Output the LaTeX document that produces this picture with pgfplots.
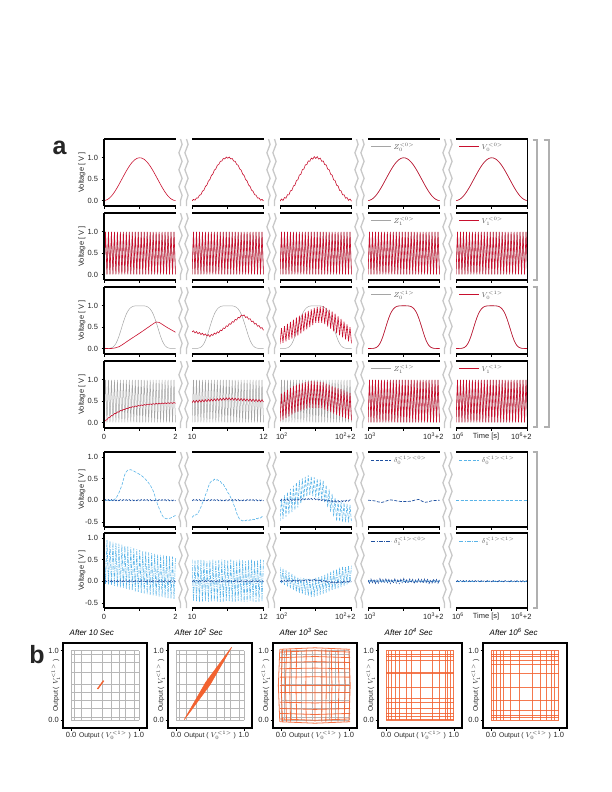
\documentclass[border=0pt]{standalone}
\usepackage{fontspec}
\setmainfont{Liberation Sans}
\usepackage{pgfplots}
\usepackage{pgfplotstable}
\pgfplotsset{compat=1.18}
\usetikzlibrary{decorations.pathmorphing}

\definecolor{vred}{RGB}{200,16,46}
\definecolor{zgray}{RGB}{165,165,165}
\definecolor{dblue}{RGB}{30,80,160}
\definecolor{lblue}{RGB}{90,180,232}
\definecolor{orng}{RGB}{242,98,48}
\definecolor{wavy}{RGB}{200,200,200}
\definecolor{brack}{RGB}{176,176,176}

% k = sample index (48 samples = 2 s of one window)
\pgfplotstableread{
k Z1 B B2 B3 P R32 R33 R41 R42 R43 DR D52 D53 DK3 D61 D62 D63 DN
0 0 0.000 -0.010 -0.015 0.000 0.385 0.100 0.000 0.460 0.030 -0.012 -0.400 -0.480 -0.015 0.980 0.50 0.330 0.03
1 1 0.004 0.024 0.034 0.000 0.415 0.475 0.052 0.513 0.673 0.015 -0.360 0.038 0.016 -0.058 -0.46 -0.040 -0.04
2 0 0.017 0.007 0.002 0.000 0.365 0.133 0.065 0.466 0.068 -0.012 -0.360 -0.428 -0.012 0.958 0.48 0.290 0.05
3 1 0.038 0.058 0.068 0.002 0.395 0.525 0.113 0.519 0.719 0.015 -0.320 0.113 0.019 -0.075 -0.47 -0.080 -0.03
4 0 0.067 0.057 0.052 0.005 0.345 0.167 0.120 0.472 0.106 -0.012 -0.320 -0.377 -0.010 0.937 0.49 0.250 0.04
5 1 0.103 0.123 0.133 0.014 0.375 0.575 0.164 0.525 0.765 0.015 -0.220 0.188 0.021 -0.092 -0.48 -0.120 -0.05
6 0 0.146 0.136 0.131 0.032 0.325 0.200 0.168 0.477 0.144 -0.012 -0.160 -0.325 -0.007 0.915 0.50 0.210 0.03
7 1 0.196 0.216 0.226 0.064 0.357 0.625 0.209 0.530 0.811 0.015 -0.060 0.263 0.024 -0.108 -0.47 -0.160 -0.04
8 0 0.250 0.240 0.235 0.116 0.308 0.233 0.209 0.483 0.182 -0.012 0.000 -0.273 -0.005 0.893 0.49 0.170 0.06
9 1 0.309 0.329 0.339 0.189 0.340 0.675 0.247 0.536 0.857 0.015 0.120 0.338 0.026 -0.125 -0.46 -0.200 -0.03
10 0 0.371 0.361 0.356 0.282 0.292 0.267 0.244 0.489 0.220 -0.012 0.200 -0.222 -0.002 0.872 0.47 0.130 0.04
11 1 0.435 0.455 0.465 0.390 0.323 0.725 0.280 0.542 0.889 0.015 0.320 0.413 0.029 -0.142 -0.48 -0.240 -0.04
12 0 0.500 0.490 0.485 0.505 0.275 0.300 0.275 0.495 0.246 -0.012 0.400 -0.170 0.000 0.850 0.49 0.090 0.05
13 1 0.565 0.585 0.595 0.617 0.330 0.768 0.308 0.548 0.907 0.015 0.443 0.469 0.031 -0.159 -0.47 -0.271 -0.03
14 0 0.629 0.619 0.614 0.719 0.305 0.350 0.301 0.501 0.272 -0.012 0.447 -0.081 0.003 0.828 0.50 0.082 0.04
15 1 0.691 0.711 0.721 0.806 0.360 0.805 0.332 0.554 0.925 0.015 0.490 0.506 0.034 -0.178 -0.46 -0.293 -0.05
16 0 0.750 0.740 0.735 0.874 0.335 0.400 0.323 0.507 0.298 -0.012 0.463 0.007 0.005 0.807 0.48 0.074 0.03
17 1 0.804 0.824 0.834 0.924 0.390 0.842 0.353 0.559 0.943 0.015 0.477 0.543 0.036 -0.196 -0.47 -0.315 -0.04
18 0 0.854 0.844 0.839 0.958 0.365 0.450 0.342 0.512 0.324 -0.012 0.450 0.096 0.008 0.785 0.49 0.066 0.05
19 1 0.897 0.917 0.927 0.980 0.430 0.878 0.371 0.565 0.961 0.015 0.440 0.580 0.039 -0.214 -0.48 -0.337 -0.04
20 0 0.933 0.923 0.918 0.992 0.415 0.500 0.359 0.518 0.350 -0.012 0.390 0.126 0.010 0.763 0.50 0.058 0.03
21 1 0.962 0.982 0.992 0.997 0.480 0.915 0.386 0.571 0.968 0.015 0.380 0.554 0.041 -0.233 -0.47 -0.359 -0.05
22 0 0.983 0.973 0.968 0.999 0.465 0.550 0.373 0.524 0.345 -0.012 0.300 0.098 0.013 0.742 0.49 0.050 0.04
23 1 0.996 1.016 1.026 1.000 0.530 0.952 0.399 0.577 0.963 0.015 0.260 0.528 0.044 -0.251 -0.46 -0.358 -0.03
24 0 1.000 0.990 0.985 1.000 0.515 0.600 0.385 0.530 0.340 -0.012 0.180 0.070 0.015 0.720 0.48 0.077 0.06
25 1 0.996 1.016 1.026 1.000 0.580 0.974 0.411 0.578 0.958 0.015 0.140 0.502 0.040 -0.268 -0.47 -0.333 -0.04
26 0 0.983 0.973 0.968 0.999 0.565 0.600 0.396 0.526 0.335 -0.012 0.060 0.042 0.005 0.703 0.50 0.103 0.03
27 1 0.962 0.982 0.992 0.997 0.630 0.982 0.421 0.574 0.953 0.015 0.020 0.476 0.030 -0.283 -0.48 -0.309 -0.04
28 0 0.933 0.923 0.918 0.992 0.615 0.600 0.405 0.522 0.330 -0.012 -0.100 0.014 -0.005 0.687 0.49 0.130 0.05
29 1 0.897 0.917 0.927 0.980 0.680 0.990 0.429 0.570 0.937 0.015 -0.180 0.450 0.020 -0.298 -0.47 -0.284 -0.03
30 0 0.854 0.844 0.839 0.958 0.665 0.571 0.413 0.518 0.300 -0.012 -0.300 -0.053 -0.015 0.670 0.48 0.157 0.04
31 1 0.804 0.824 0.834 0.924 0.730 0.950 0.436 0.565 0.911 0.015 -0.380 0.350 0.010 -0.313 -0.46 -0.260 -0.05
32 0 0.750 0.740 0.735 0.874 0.715 0.514 0.419 0.513 0.270 -0.012 -0.440 -0.160 -0.025 0.653 0.50 0.186 0.03
33 1 0.691 0.711 0.721 0.806 0.780 0.910 0.442 0.561 0.885 0.015 -0.460 0.250 0.000 -0.328 -0.47 -0.236 -0.04
34 0 0.629 0.619 0.614 0.719 0.765 0.457 0.425 0.509 0.240 -0.012 -0.479 -0.267 -0.035 0.637 0.49 0.218 0.05
35 1 0.565 0.585 0.595 0.617 0.785 0.870 0.448 0.557 0.859 0.015 -0.457 0.150 -0.010 -0.343 -0.48 -0.212 -0.03
36 0 0.500 0.490 0.485 0.505 0.725 0.400 0.430 0.505 0.210 -0.012 -0.476 -0.373 -0.045 0.620 0.47 0.250 0.04
37 1 0.435 0.455 0.465 0.390 0.745 0.818 0.452 0.553 0.833 0.015 -0.454 0.050 -0.013 -0.356 -0.47 -0.188 -0.04
38 0 0.371 0.361 0.356 0.282 0.685 0.353 0.434 0.501 0.180 -0.012 -0.473 -0.480 -0.040 0.610 0.49 0.282 0.05
39 1 0.309 0.329 0.339 0.189 0.697 0.755 0.456 0.549 0.806 0.015 -0.451 -0.012 -0.008 -0.368 -0.46 -0.164 -0.03
40 0 0.250 0.240 0.235 0.116 0.629 0.307 0.438 0.497 0.154 -0.012 -0.470 -0.488 -0.035 0.600 0.50 0.314 0.04
41 1 0.196 0.216 0.226 0.064 0.641 0.692 0.460 0.545 0.778 0.015 -0.440 -0.036 -0.003 -0.379 -0.47 -0.140 -0.05
42 0 0.146 0.136 0.131 0.032 0.573 0.260 0.441 0.493 0.128 -0.012 -0.450 -0.496 -0.030 0.590 0.48 0.334 0.03
43 1 0.103 0.123 0.133 0.014 0.585 0.628 0.463 0.540 0.750 0.015 -0.420 -0.060 0.002 -0.391 -0.48 -0.106 -0.04
44 0 0.067 0.057 0.052 0.005 0.521 0.213 0.444 0.488 0.102 -0.012 -0.430 -0.504 -0.025 0.580 0.49 0.343 0.05
45 1 0.038 0.058 0.068 0.002 0.537 0.565 0.465 0.536 0.722 0.015 -0.400 -0.084 0.007 -0.402 -0.47 -0.071 -0.03
46 0 0.017 0.007 0.002 0.000 0.473 0.167 0.446 0.484 0.076 -0.012 -0.410 -0.512 -0.020 0.570 0.50 0.351 0.04
47 1 0.004 0.024 0.034 0.000 0.489 0.502 0.467 0.532 0.694 0.015 -0.380 -0.108 0.012 -0.414 -0.46 -0.037 -0.04
48 0 0.000 -0.010 -0.015 0.000 0.425 0.120 0.448 0.480 0.050 -0.012 -0.390 -0.520 -0.015 0.560 0.49 0.360 0.03
}\sig

\newcommand{\fs}{\fontsize{7.5}{9}\selectfont}
\newcommand{\fss}{\fontsize{6.8}{8}\selectfont}

\pgfplotsset{
  brk/.style={
    scale only axis, width=71.5pt, anchor=north west,
    xmin=0, xmax=48,
    axis line style={draw=none},
    tick align=outside, major tick length=2.5pt, tick pos=left,
    tick style={black, line width=0.6pt},
    xtick={0,24,48}, xticklabels={}, ytick=\empty,
    tick label style={font=\fs, text=black!85},
    xticklabel style={text height=5.5pt, text depth=1pt},
    label style={font=\fs, text=black!85},
    every axis plot/.append style={line width=0.6pt},
    legend style={at={(0.04,0.975)}, anchor=north west, draw=none, fill=none,
      text=black!65, inner sep=0pt, font=\fs},
    legend image code/.code={\draw[#1] (0pt,0pt) -- (20pt,0pt);},
    after end axis/.append code={
      \draw[line width=1.8pt] (rel axis cs:0,1) -- (rel axis cs:1,1);
      \draw[line width=1.1pt] (rel axis cs:0,0) -- (rel axis cs:1,0);
    },
  },
  rtop/.style={height=67pt, ymin=-0.13, ymax=1.44},
  rbot/.style={height=75pt, ymin=-0.62, ymax=1.12},
  c1/.style={ytick={0,0.5,1}, yticklabels={0.0,0.5,1.0},
    ylabel={Voltage [ V ]},
    ylabel style={at={(axis description cs:-0.31,0.5)}, anchor=center},
    after end axis/.append code={\draw[line width=1.1pt] (rel axis cs:0,0) -- (rel axis cs:0,1);}},
  c1b/.style={c1, ytick={-0.5,0,0.5,1}, yticklabels={-0.5,0.0,0.5,1.0}},
  c5/.style={after end axis/.append code={\draw[line width=1.1pt] (rel axis cs:1,0) -- (rel axis cs:1,1);}},
  tlab/.style={xlabel={Time [s]},
    xlabel style={at={(axis description cs:0.42,0)}, anchor=base, yshift=-10.5pt}},
  zg/.style={zgray, line width=0.5pt},
  vr/.style={vred, line width=0.6pt},
  dbd/.style={dblue, line width=0.7pt, dash pattern=on 3pt off 1.5pt},
  lbd/.style={lblue, line width=0.6pt, dash pattern=on 3pt off 1.5pt},
  dbdd/.style={dblue, line width=0.7pt, dash pattern=on 4pt off 1.2pt on 1pt off 1.2pt},
  lbdd/.style={lblue, line width=0.6pt, dash pattern=on 4pt off 1.2pt on 1pt off 1.2pt},
  bp/.style={
    scale only axis, width=84pt, height=85pt, anchor=north west,
    xmin=-0.12, xmax=1.12, ymin=-0.11, ymax=1.11,
    xtick={0,1}, ytick={0,1}, xticklabels={0.0,1.0}, yticklabels={0.0,1.0},
    tick align=outside, major tick length=2.5pt, tick pos=left,
    tick style={black, line width=0.6pt},
    axis line style={line width=1.5pt},
    tick label style={font=\fs, text=black!85, inner sep=1.5pt},
    xticklabel style={text height=5.5pt, text depth=1pt},
    label style={font=\fss, text=black!85, inner sep=1pt},
    xlabel={Output ( $V_0^{<1>}$ )}, ylabel={Output ( $V_1^{<1>}$ )},
    xlabel style={at={(axis description cs:0.5,0)}, anchor=base, yshift=-9.5pt},
    ylabel style={at={(axis description cs:-0.085,0.5)}, anchor=center},
    title style={at={(axis description cs:0.06,1)}, anchor=south west, inner sep=1.5pt,
      font=\itshape\fontsize{8}{9}\selectfont},
    unbounded coords=jump,
  },
}

\newcommand{\graygrid}{%
  \pgfplotsinvokeforeach{0,0.05,0.155,0.3,0.46,0.59,0.71,0.8,0.93,1}{%
    \addplot[zgray!80, line width=0.5pt] coordinates {(##1,0) (##1,1)};}%
  \pgfplotsinvokeforeach{0,0.05,0.17,0.29,0.40,0.52,0.69,0.83,0.95,1}{%
    \addplot[zgray!80, line width=0.5pt] coordinates {(0,##1) (1,##1)};}%
}

\begin{document}
\begin{tikzpicture}
\path (0,0) rectangle (612pt,-792pt);

% ================= row 1 : Z0<0>, V0<0>
\begin{axis}[brk,rtop,c1,at={(104pt,-139pt)}]
\addplot[vr] table[x=k,y=B]{\sig};
\end{axis}
\begin{axis}[brk,rtop,at={(192pt,-139pt)}]
\addplot[vr] table[x=k,y=B2]{\sig};
\end{axis}
\begin{axis}[brk,rtop,at={(280pt,-139pt)}]
\addplot[vr] table[x=k,y=B3]{\sig};
\end{axis}
\begin{axis}[brk,rtop,at={(368pt,-139pt)}]
\addplot[zg] table[x=k,y=B]{\sig}; \addlegendentry{$Z_0^{<0>}$}
\addplot[vr,forget plot] table[x=k,y=B]{\sig};
\end{axis}
\begin{axis}[brk,rtop,c5,at={(456pt,-139pt)}]
\addplot[zg,forget plot] table[x=k,y=B]{\sig};
\addplot[vr] table[x=k,y=B]{\sig}; \addlegendentry{$V_0^{<0>}$}
\end{axis}

% ================= row 2 : Z1<0>, V1<0>
\begin{axis}[brk,rtop,c1,at={(104pt,-213pt)}]
\addplot[zg] table[x=k,y=Z1]{\sig};
\addplot[vr] table[x=k,y=Z1]{\sig};
\end{axis}
\begin{axis}[brk,rtop,at={(192pt,-213pt)}]
\addplot[zg] table[x=k,y=Z1]{\sig};
\addplot[vr] table[x=k,y=Z1]{\sig};
\end{axis}
\begin{axis}[brk,rtop,at={(280pt,-213pt)}]
\addplot[zg] table[x=k,y=Z1]{\sig};
\addplot[vr] table[x=k,y=Z1]{\sig};
\end{axis}
\begin{axis}[brk,rtop,at={(368pt,-213pt)}]
\addplot[zg] table[x=k,y=Z1]{\sig}; \addlegendentry{$Z_1^{<0>}$}
\addplot[vr,forget plot] table[x=k,y=Z1]{\sig};
\end{axis}
\begin{axis}[brk,rtop,c5,at={(456pt,-213pt)}]
\addplot[zg,forget plot] table[x=k,y=Z1]{\sig};
\addplot[vr] table[x=k,y=Z1]{\sig}; \addlegendentry{$V_1^{<0>}$}
\end{axis}

% ================= row 3 : Z0<1>, V0<1>
\begin{axis}[brk,rtop,c1,at={(104pt,-287pt)}]
\addplot[zg] table[x=k,y=P]{\sig};
\addplot[vr,smooth] coordinates {(0,0) (5,0.0) (10,0.04) (17,0.2) (24,0.36) (29,0.48) (35,0.62) (37,0.61) (42,0.50) (48,0.38)};
\end{axis}
\begin{axis}[brk,rtop,at={(192pt,-287pt)}]
\addplot[zg] table[x=k,y=P]{\sig};
\addplot[vr] table[x=k,y=R32]{\sig};
\end{axis}
\begin{axis}[brk,rtop,at={(280pt,-287pt)}]
\addplot[zg] table[x=k,y=P]{\sig};
\addplot[vr] table[x=k,y=R33]{\sig};
\end{axis}
\begin{axis}[brk,rtop,at={(368pt,-287pt)}]
\addplot[zg] table[x=k,y=P]{\sig}; \addlegendentry{$Z_0^{<1>}$}
\addplot[vr,forget plot] table[x=k,y=P]{\sig};
\end{axis}
\begin{axis}[brk,rtop,c5,at={(456pt,-287pt)}]
\addplot[zg,forget plot] table[x=k,y=P]{\sig};
\addplot[vr] table[x=k,y=P]{\sig}; \addlegendentry{$V_0^{<1>}$}
\end{axis}

% ================= row 4 : Z1<1>, V1<1>
\begin{axis}[brk,rtop,c1,at={(104pt,-361pt)}, xticklabels={0,,2}]
\addplot[zg] table[x=k,y=Z1]{\sig};
\addplot[vr] table[x=k,y=R41]{\sig};
\end{axis}
\begin{axis}[brk,rtop,at={(192pt,-361pt)}, xticklabels={10,,12}]
\addplot[zg] table[x=k,y=Z1]{\sig};
\addplot[vr] table[x=k,y=R42]{\sig};
\end{axis}
\begin{axis}[brk,rtop,at={(280pt,-361pt)},
  xticklabels={\makebox[8pt][l]{10\textsuperscript{2}},,\makebox[8pt][r]{10\textsuperscript{2}+2}}]
\addplot[zg] table[x=k,y=Z1]{\sig};
\addplot[vr] table[x=k,y=R43]{\sig};
\end{axis}
\begin{axis}[brk,rtop,at={(368pt,-361pt)},
  xticklabels={\makebox[8pt][l]{10\textsuperscript{3}},,\makebox[8pt][r]{10\textsuperscript{3}+2}}]
\addplot[zg] table[x=k,y=Z1]{\sig}; \addlegendentry{$Z_1^{<1>}$}
\addplot[vr,forget plot] table[x=k,y=Z1]{\sig};
\end{axis}
\begin{axis}[brk,rtop,c5,tlab,at={(456pt,-361pt)},
  xticklabels={\makebox[8pt][l]{10\textsuperscript{6}},,\makebox[8pt][r]{10\textsuperscript{6}+2}}]
\addplot[zg,forget plot] table[x=k,y=Z1]{\sig};
\addplot[vr] table[x=k,y=Z1]{\sig}; \addlegendentry{$V_1^{<1>}$}
\end{axis}

% ================= row 5 : delta0
\begin{axis}[brk,rbot,c1b,at={(104pt,-452pt)}]
\addplot[lbd,smooth] coordinates {(0,0) (6,0.0) (9,0.1) (12,0.35) (14,0.6) (16,0.7) (18,0.71) (22,0.64) (26,0.55) (30,0.40) (33,0.22) (36,-0.1) (40,-0.4) (44,-0.42) (48,-0.35)};
\addplot[dbd] table[x=k,y=DR]{\sig};
\end{axis}
\begin{axis}[brk,rbot,at={(192pt,-452pt)}]
\addplot[lbd] table[x=k,y=D52]{\sig};
\addplot[dbd] table[x=k,y=DR]{\sig};
\end{axis}
\begin{axis}[brk,rbot,at={(280pt,-452pt)}]
\addplot[lbd] table[x=k,y=D53]{\sig};
\addplot[dbd] table[x=k,y=DK3]{\sig};
\end{axis}
\begin{axis}[brk,rbot,at={(368pt,-452pt)}]
\addplot[dbd,smooth] coordinates {(0,0.0) (4,-0.01) (9,-0.05) (15,0.01) (20,-0.02) (24,-0.03) (29,-0.02) (34,0.02) (38,-0.05) (43,-0.01) (48,0.0)};
\addlegendentry{$\delta_0^{<1><0>}$}
\end{axis}
\begin{axis}[brk,rbot,c5,at={(456pt,-452pt)}]
\addplot[dbd,forget plot] coordinates {(0,0) (48,0)};
\addplot[lbd] coordinates {(0,0) (48,0)}; \addlegendentry{$\delta_0^{<1><1>}$}
\end{axis}

% ================= row 6 : delta1
\begin{axis}[brk,rbot,c1b,at={(104pt,-533pt)}, xticklabels={0,,2}]
\addplot[lbdd] table[x=k,y=D61]{\sig};
\addplot[dbdd] table[x=k,y=DR]{\sig};
\end{axis}
\begin{axis}[brk,rbot,at={(192pt,-533pt)}, xticklabels={10,,12}]
\addplot[lbdd] table[x=k,y=D62]{\sig};
\addplot[dbdd] table[x=k,y=DR]{\sig};
\end{axis}
\begin{axis}[brk,rbot,at={(280pt,-533pt)},
  xticklabels={\makebox[8pt][l]{10\textsuperscript{2}},,\makebox[8pt][r]{10\textsuperscript{2}+2}}]
\addplot[lbdd] table[x=k,y=D63]{\sig};
\addplot[dbdd] table[x=k,y=DK3]{\sig};
\end{axis}
\begin{axis}[brk,rbot,at={(368pt,-533pt)},
  xticklabels={\makebox[8pt][l]{10\textsuperscript{3}},,\makebox[8pt][r]{10\textsuperscript{3}+2}}]
\addplot[lbdd,forget plot] table[x=k,y=DR]{\sig};
\addplot[dbdd] table[x=k,y=DN]{\sig}; \addlegendentry{$\delta_1^{<1><0>}$}
\end{axis}
\begin{axis}[brk,rbot,c5,tlab,at={(456pt,-533pt)},
  xticklabels={\makebox[8pt][l]{10\textsuperscript{6}},,\makebox[8pt][r]{10\textsuperscript{6}+2}}]
\addplot[lbdd] coordinates {(0,0) (48,0)}; \addlegendentry{$\delta_1^{<1><1>}$}
\addplot[dbdd,forget plot] table[x=k,y=DR]{\sig};
\end{axis}

% axis breaks
\foreach \t/\b in {139/206,213/280,287/354,361/428,452/527,533/608}{
  \foreach \x in {180.5,186.5,268.5,274.5,356.5,362.5,444.5,450.5}{
    \draw[wavy, line width=1.3pt, decorate, decoration={snake, amplitude=1.6pt, segment length=17pt}]
      (\x pt,-\t pt) -- (\x pt,-\b pt);
  }
}

% brackets
\draw[brack, line width=1.2pt] (532.5pt,-140pt) -- (537pt,-140pt) -- (537pt,-280pt) -- (532.5pt,-280pt);
\draw[brack, line width=1.2pt] (543.5pt,-140pt) -- (549pt,-140pt) -- (549pt,-427pt) -- (543.5pt,-427pt);
\draw[brack, line width=1.2pt] (532.5pt,-287pt) -- (537pt,-287pt) -- (537pt,-427pt) -- (532.5pt,-427pt);
\draw[brack, line width=1.2pt] (532.5pt,-452pt) -- (537pt,-452pt) -- (537pt,-608pt) -- (532.5pt,-608pt);

\node[font=\bfseries\fontsize{25}{25}\selectfont, text=black!85] at (59.7pt,-148pt) {a};
\node[font=\bfseries\fontsize{25}{25}\selectfont, text=black!85] at (37pt,-655pt) {b};

% ================= panel b
\begin{axis}[bp, at={(63pt,-643pt)}, title={After 10 Sec}]
\graygrid
\addplot[orng, line width=1.4pt] coordinates {(0.39,0.45) (0.48,0.57)};
\end{axis}

\begin{axis}[bp, at={(168pt,-643pt)}, title={After 10\textsuperscript{2} Sec}]
\graygrid
\addplot[fill=orng, draw=orng, line width=0.6pt] coordinates {(0.12,0.01) (0.44,0.55) (0.82,1.05) (0.50,0.51)} -- cycle;
\end{axis}

\begin{axis}[bp, at={(273pt,-643pt)}, title={After 10\textsuperscript{3} Sec}]
\graygrid
\addplot[orng, line width=0.8pt, opacity=0.9] coordinates {
(-0.02,-0.02) (-0.041,0.5) (-0.02,1.02) (nan,nan)
(0.02,-0.02) (0.001,0.5) (0.02,1.02) (nan,nan)
(0.08,-0.02) (0.063,0.5) (0.08,1.02) (nan,nan)
(0.14,-0.02) (0.126,0.5) (0.14,1.02) (nan,nan)
(0.23,-0.02) (0.219,0.5) (0.23,1.02) (nan,nan)
(0.37,-0.02) (0.365,0.5) (0.37,1.02) (nan,nan)
(0.50,-0.02) (0.50,0.5) (0.50,1.02) (nan,nan)
(0.60,-0.02) (0.604,0.5) (0.60,1.02) (nan,nan)
(0.66,-0.02) (0.666,0.5) (0.66,1.02) (nan,nan)
(0.74,-0.02) (0.750,0.5) (0.74,1.02) (nan,nan)
(0.84,-0.02) (0.854,0.5) (0.84,1.02) (nan,nan)
(0.93,-0.02) (0.947,0.5) (0.93,1.02) (nan,nan)
(1.00,-0.02) (1.020,0.5) (1.00,1.02)};
\addplot[orng, line width=0.8pt, opacity=0.9] coordinates {
(-0.02,-0.02) (0.5,-0.041) (1.02,-0.02) (nan,nan)
(-0.02,0.02) (0.5,0.001) (1.02,0.02) (nan,nan)
(-0.02,0.10) (0.5,0.084) (1.02,0.10) (nan,nan)
(-0.02,0.17) (0.5,0.157) (1.02,0.17) (nan,nan)
(-0.02,0.26) (0.5,0.250) (1.02,0.26) (nan,nan)
(-0.02,0.40) (0.5,0.396) (1.02,0.40) (nan,nan)
(-0.02,0.50) (0.5,0.500) (1.02,0.50) (nan,nan)
(-0.02,0.62) (0.5,0.625) (1.02,0.62) (nan,nan)
(-0.02,0.74) (0.5,0.750) (1.02,0.74) (nan,nan)
(-0.02,0.83) (0.5,0.843) (1.02,0.83) (nan,nan)
(-0.02,0.90) (0.5,0.916) (1.02,0.90) (nan,nan)
(-0.02,0.98) (0.5,0.999) (1.02,0.98) (nan,nan)
(-0.02,1.02) (0.5,1.041) (1.02,1.02)};
\end{axis}

\begin{axis}[bp, at={(378pt,-643pt)}, title={After 10\textsuperscript{4} Sec}]
\pgfplotsinvokeforeach{0,0.04,0.085,0.13,0.19,0.30,0.38,0.51,0.69,0.78,0.87,0.91,0.95,1}{
  \addplot[orng, line width=0.8pt, opacity=0.85] coordinates {(#1,0) (#1,1)};}
\pgfplotsinvokeforeach{0,0.01,0.05,0.10,0.17,0.26,0.31,0.48,0.67,0.69,0.86,0.92,0.95,1}{
  \addplot[orng, line width=0.8pt, opacity=0.85] coordinates {(0,#1) (1,#1)};}
\end{axis}

\begin{axis}[bp, at={(483pt,-643pt)}, title={After 10\textsuperscript{6} Sec}]
\pgfplotsinvokeforeach{0,0.04,0.08,0.13,0.18,0.28,0.42,0.61,0.73,0.82,0.89,0.94,1}{
  \addplot[orng, line width=0.8pt, opacity=0.85] coordinates {(#1,0) (#1,1)};}
\pgfplotsinvokeforeach{0,0.04,0.07,0.14,0.29,0.48,0.67,0.81,0.86,0.92,0.95,1}{
  \addplot[orng, line width=0.8pt, opacity=0.85] coordinates {(0,#1) (1,#1)};}
\end{axis}

\end{tikzpicture}
\end{document}
